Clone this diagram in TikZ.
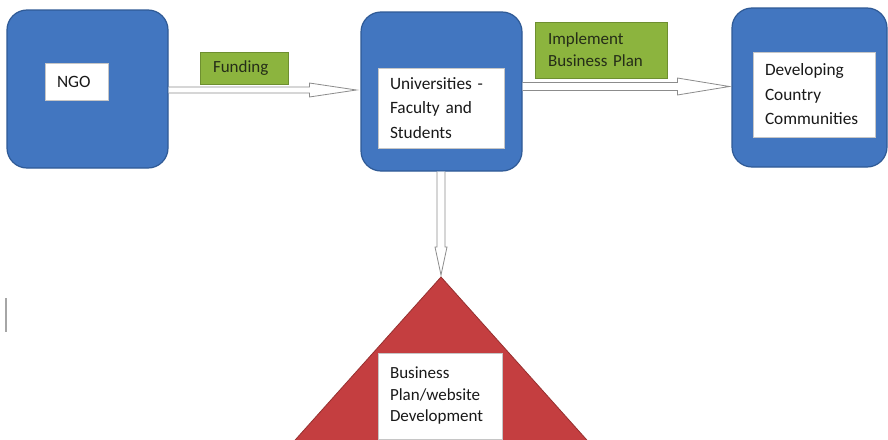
\documentclass[tikz,border=0pt]{standalone}
\usepackage{fontspec}
\setmainfont{Carlito}
\usetikzlibrary{calc}
\definecolor{boxblue}{HTML}{4276C0}
\definecolor{boxblueedge}{HTML}{2F5A96}
\definecolor{labgreen}{HTML}{8CB43E}
\definecolor{labgreenedge}{HTML}{6E8F30}
\definecolor{labgreentext}{HTML}{252D18}
\definecolor{trired}{HTML}{C43E40}
\definecolor{triredge}{HTML}{96302F}
\definecolor{arrowedge}{HTML}{8C8C8C}
\begin{document}
\begin{tikzpicture}[x=1pt,y=-1pt,
  bluebox/.style={draw=boxblueedge, line width=1.2pt, fill=boxblue, rounded corners=20pt, inner sep=0pt},
  wlabel/.style={draw=gray!45, line width=0.5pt, fill=white, inner xsep=12pt, inner ysep=0pt, align=left, text=black!90},
  glabel/.style={draw=labgreenedge, line width=0.6pt, fill=labgreen, inner xsep=13pt, inner ysep=0pt, align=left, text=labgreentext},
  blockarrow/.style={draw=arrowedge, fill=white, line width=0.8pt, line join=miter},
  bigtext/.style={font=\fontsize{17.3}{24.5}\selectfont},
  midtext/.style={font=\fontsize{17}{21.5}\selectfont},
  greentext/.style={font=\fontsize{17}{22}\selectfont}]
\useasboundingbox (0,0) rectangle (888,439);
\fill[white] (0,0) rectangle (888,439);
\clip (0,0) rectangle (888,439);

% blue boxes
\node[bluebox, minimum width=161pt, minimum height=158pt] (ngo) at (87.5,89) {};
\node[bluebox, minimum width=161pt, minimum height=159pt] (uni) at (441.5,91.5) {};
\node[bluebox, minimum width=155pt, minimum height=159pt] (dev) at (809.5,87.5) {};

% white labels
\node[wlabel, bigtext, text width=39pt, minimum width=63pt, minimum height=37pt] (ngolab) at (76.5,81.5) {NGO};
\node[wlabel, bigtext, text width=102pt, minimum width=126pt, minimum height=80pt] (unilab) at (441,108) {Universities -\\Faculty and\\Students};
\node[wlabel, bigtext, text width=98pt, minimum width=122pt, minimum height=85pt] (devlab) at (814,94.5) {Developing\\Country\\Communities};

% green labels
\node[glabel, greentext, text width=62pt, minimum width=88pt, minimum height=32pt] (fund) at (244,68) {Funding};
\node[glabel, greentext, text width=106pt, minimum width=132pt, minimum height=56pt] (impl) at (601,50) {Implement\\Business Plan};

% triangle
\coordinate (apex) at (441,277);
\filldraw[fill=trired, draw=triredge, line width=0.8pt, line join=miter]
  (apex) -- ($(apex)+(-170,190)$) -- ($(apex)+(170,190)$) -- cycle;
\node[wlabel, midtext, text width=100pt, minimum width=124pt, minimum height=86pt] (bizlab) at (440,396) {Business\\Plan/website\\Development};

% block arrows
\coordinate (a1s) at ($(ngo.east)+(0,1)$);
\coordinate (a1t) at ($(uni.west)+(-4,-1.5)$);
\filldraw[blockarrow] ($(a1s)+(0,-3)$) -- ($(a1t)+(-47,-3)$) -- ($(a1t)+(-47,-7)$) -- (a1t)
  -- ($(a1t)+(-47,7)$) -- ($(a1t)+(-47,3)$) -- ($(a1s)+(0,3)$);

\coordinate (a2s) at ($(uni.east)+(0,-5)$);
\coordinate (a2t) at ($(dev.west)+(-2,-1)$);
\filldraw[blockarrow] ($(a2s)+(0,-4)$) -- ($(a2t)+(-52,-4)$) -- ($(a2t)+(-52,-8.5)$) -- (a2t)
  -- ($(a2t)+(-52,8.5)$) -- ($(a2t)+(-52,4)$) -- ($(a2s)+(0,4)$);

\coordinate (a3s) at (uni.south -| apex);
\coordinate (a3t) at ($(apex)+(0,-2)$);
\filldraw[blockarrow] ($(a3s)+(-4,0)$) -- ($(a3t)+(-4,-28)$) -- ($(a3t)+(-6,-28)$) -- (a3t)
  -- ($(a3t)+(6,-28)$) -- ($(a3t)+(4,-28)$) -- ($(a3s)+(4,0)$);

% stray mark at left edge
\draw[gray!70, line width=1.5pt] (6,298) -- (6,332);
\end{tikzpicture}
\end{document}
